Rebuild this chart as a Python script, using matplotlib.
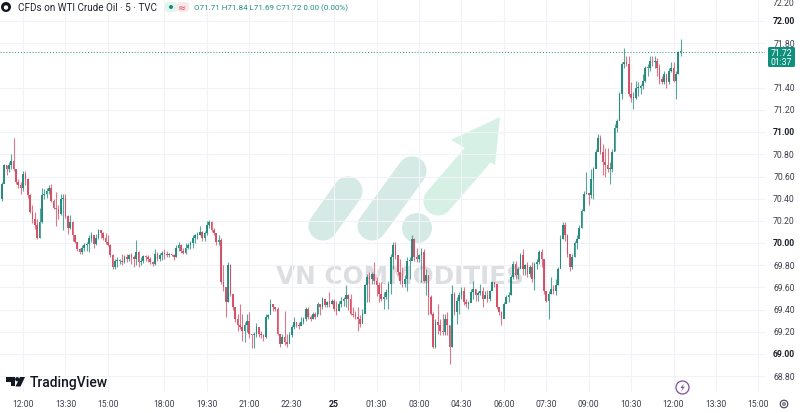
import matplotlib
matplotlib.use('Agg')
import matplotlib.pyplot as plt
from matplotlib.patches import Circle, FancyBboxPatch, Polygon

# 5 minute candles, oldest first
highs = [
    70.55, 70.71, 70.70, 70.73, 70.80, 70.95, 70.67, 70.58, 70.55, 70.65,
    70.65, 70.59, 70.44, 70.34, 70.28, 70.22, 70.32, 70.50, 70.49, 70.50,
    70.52, 70.53, 70.40, 70.46, 70.34, 70.44, 70.44, 70.44, 70.25, 70.25,
    70.20, 70.07, 70.01, 69.96, 69.98, 70.00, 70.01, 70.07, 70.10, 70.07,
    70.08, 70.13, 70.12, 70.10, 70.09, 70.07, 69.99, 69.90, 69.86, 69.87,
    69.86, 69.90, 69.89, 69.90, 69.90, 69.91, 69.89, 70.03, 69.93, 69.87,
    69.89, 69.89, 69.89, 69.87, 69.84, 69.95, 69.92, 69.91, 69.93, 69.95,
    69.93, 69.91, 69.90, 69.90, 69.98, 70.01, 69.99, 69.96, 70.00, 70.00,
    70.02, 70.07, 70.08, 70.10, 70.15, 70.11, 70.11, 70.20, 70.21, 70.20,
    70.14, 70.07, 70.07,
    70.05, 69.80, 69.54, 69.83, 69.81, 69.52, 69.40, 69.36, 69.45, 69.36,
    69.29, 69.36, 69.38, 69.18, 69.20, 69.28, 69.23, 69.21, 69.18, 69.36,
    69.36, 69.50, 69.45, 69.42, 69.42, 69.18, 69.18, 69.39, 69.18, 69.20,
    69.26, 69.33, 69.29, 69.29, 69.33, 69.33, 69.42, 69.42, 69.35, 69.38,
    69.38, 69.47, 69.45, 69.51, 69.48, 69.48, 69.56, 69.50, 69.50, 69.48,
    69.48, 69.51, 69.51, 69.62, 69.54, 69.54, 69.42, 69.39, 69.42, 69.35,
    69.41, 69.63, 69.72, 69.74, 69.74, 69.83, 69.69, 69.65, 69.65, 69.56,
    69.59, 69.66, 69.90, 70.01, 70.01, 69.87, 69.86, 69.78, 69.71, 69.87,
    69.87, 70.07, 70.05, 69.96, 69.90, 69.96, 69.95, 69.77, 69.71, 69.53,
    69.38, 69.32, 69.45, 69.32, 69.36, 69.36, 69.38, 69.26, 69.62, 69.56,
    69.51, 69.56, 69.60, 69.60, 69.50, 69.48, 69.59, 69.66, 69.59,
    69.57, 69.63, 69.60, 69.57, 69.58, 69.58, 69.66, 69.65, 69.62, 69.42,
    69.39, 69.47, 69.53, 69.56, 69.71, 69.84, 69.84, 69.78, 69.91, 69.95,
    69.81, 69.83, 69.80, 69.83, 69.83, 69.86, 69.94, 69.95, 69.83, 69.57,
    69.57, 69.69, 69.62, 69.68, 69.78, 70.07, 70.19, 70.19, 70.08, 69.89,
    69.90, 70.02, 70.07, 70.16, 70.31, 70.47, 70.64, 70.45, 70.67, 70.69,
    70.85, 70.98, 70.97, 70.89, 70.86, 70.86, 70.73, 70.85, 71.07, 71.12,
    71.36, 71.63, 71.76, 71.69, 71.69, 71.45, 71.36, 71.46, 71.45, 71.43,
    71.52, 71.60, 71.61, 71.69, 71.69, 71.69, 71.67, 71.61, 71.51, 71.55,
    71.51, 71.58, 71.63, 71.63, 71.55, 71.73, 71.84,
]
lows = [
    70.38, 70.56, 70.61, 70.64, 70.67, 70.65, 70.53, 70.50, 70.44, 70.47,
    70.52, 70.41, 70.27, 70.18, 70.13, 70.04, 70.05, 70.18, 70.40, 70.41,
    70.44, 70.37, 70.31, 70.15, 70.22, 70.25, 70.12, 70.23, 70.08, 70.13,
    70.02, 70.00, 69.93, 69.90, 69.90, 69.93, 69.93, 69.92, 70.01, 69.96,
    69.98, 70.04, 70.05, 70.03, 69.99, 69.97, 69.87, 69.77, 69.77, 69.78,
    69.81, 69.80, 69.82, 69.83, 69.84, 69.81, 69.78, 69.80, 69.78, 69.80,
    69.82, 69.84, 69.83, 69.81, 69.79, 69.80, 69.84, 69.84, 69.85, 69.86,
    69.87, 69.87, 69.88, 69.85, 69.87, 69.93, 69.91, 69.90, 69.90, 69.95,
    69.95, 69.96, 70.00, 70.04, 70.07, 70.02, 70.02, 70.07, 70.14, 70.10,
    70.07, 69.98, 69.98,
    69.63, 69.57, 69.33, 69.47, 69.52, 69.40, 69.29, 69.21, 69.23, 69.12,
    69.11, 69.20, 69.14, 69.05, 69.05, 69.15, 69.15, 69.14, 69.12, 69.14,
    69.32, 69.38, 69.39, 69.39, 69.17, 69.06, 69.12, 69.08, 69.06, 69.12,
    69.15, 69.23, 69.24, 69.23, 69.26, 69.27, 69.30, 69.32, 69.30, 69.32,
    69.32, 69.36, 69.35, 69.41, 69.42, 69.42, 69.42, 69.45, 69.39, 69.35,
    69.39, 69.42, 69.43, 69.42, 69.40, 69.35, 69.33, 69.32, 69.21, 69.24,
    69.29, 69.38, 69.47, 69.47, 69.63, 69.63, 69.52, 69.47, 69.48, 69.41,
    69.50, 69.41, 69.54, 69.77, 69.86, 69.71, 69.63, 69.60, 69.60, 69.57,
    69.68, 69.86, 69.84, 69.83, 69.83, 69.65, 69.65, 69.53, 69.35, 69.35,
    69.05, 69.05, 69.18, 69.17, 69.17, 69.17, 69.17, 68.91, 69.06, 69.35,
    69.27, 69.36, 69.50, 69.44, 69.42, 69.41, 69.50, 69.50, 69.48,
    69.48, 69.53, 69.42, 69.51, 69.47, 69.48, 69.58, 69.60, 69.41, 69.35,
    69.26, 69.35, 69.47, 69.47, 69.53, 69.68, 69.68, 69.68, 69.78, 69.71,
    69.71, 69.69, 69.69, 69.65, 69.58, 69.77, 69.81, 69.78, 69.54, 69.47,
    69.32, 69.54, 69.54, 69.53, 69.62, 69.78, 70.04, 70.02, 69.87, 69.75,
    69.77, 69.87, 69.95, 70.07, 70.14, 70.29, 70.44, 70.34, 70.41, 70.40,
    70.69, 70.85, 70.80, 70.61, 70.60, 70.64, 70.53, 70.64, 70.83, 71.00,
    71.12, 71.30, 71.58, 71.60, 71.33, 71.27, 71.21, 71.30, 71.33, 71.34,
    71.39, 71.45, 71.51, 71.55, 71.60, 71.58, 71.51, 71.43, 71.43, 71.43,
    71.40, 71.43, 71.54, 71.45, 71.30, 71.52, 71.69,
]
closes = [
    70.53, 70.70, 70.67, 70.70, 70.74, 70.67, 70.55, 70.52, 70.50, 70.62,
    70.58, 70.43, 70.28, 70.22, 70.16, 70.05, 70.19, 70.43, 70.44, 70.47,
    70.50, 70.38, 70.32, 70.31, 70.26, 70.40, 70.41, 70.24, 70.14, 70.19,
    70.07, 70.01, 69.95, 69.92, 69.96, 69.98, 69.99, 70.05, 70.07, 69.99,
    70.05, 70.12, 70.09, 70.05, 70.01, 69.98, 69.89, 69.78, 69.84, 69.84,
    69.84, 69.83, 69.87, 69.86, 69.89, 69.87, 69.86, 69.92, 69.83, 69.84,
    69.88, 69.87, 69.86, 69.83, 69.81, 69.90, 69.86, 69.89, 69.91, 69.90,
    69.89, 69.90, 69.89, 69.87, 69.96, 69.98, 69.93, 69.91, 69.96, 69.98,
    70.00, 70.05, 70.07, 70.07, 70.10, 70.05, 70.09, 70.16, 70.19, 70.12,
    70.09, 70.01, 70.03,
    69.65, 69.60, 69.47, 69.80, 69.54, 69.42, 69.32, 69.26, 69.24, 69.21,
    69.26, 69.30, 69.18, 69.17, 69.18, 69.24, 69.18, 69.17, 69.15, 69.33,
    69.35, 69.45, 69.42, 69.41, 69.18, 69.09, 69.15, 69.11, 69.09, 69.17,
    69.24, 69.29, 69.26, 69.25, 69.29, 69.32, 69.41, 69.33, 69.32, 69.36,
    69.33, 69.45, 69.42, 69.50, 69.44, 69.47, 69.45, 69.48, 69.41, 69.39,
    69.45, 69.48, 69.50, 69.53, 69.50, 69.36, 69.35, 69.33, 69.32, 69.27,
    69.36, 69.62, 69.69, 69.68, 69.72, 69.66, 69.62, 69.54, 69.50, 69.51,
    69.56, 69.63, 69.87, 69.98, 69.89, 69.74, 69.66, 69.63, 69.68, 69.84,
    69.84, 70.04, 69.87, 69.86, 69.89, 69.92, 69.66, 69.71, 69.51, 69.36,
    69.06, 69.29, 69.26, 69.21, 69.20, 69.32, 69.26, 69.06, 69.54, 69.38,
    69.48, 69.53, 69.57, 69.47, 69.45, 69.46, 69.56, 69.59, 69.53,
    69.55, 69.57, 69.50, 69.53, 69.50, 69.57, 69.65, 69.63, 69.42, 69.38,
    69.32, 69.45, 69.51, 69.53, 69.69, 69.81, 69.71, 69.77, 69.89, 69.77,
    69.80, 69.72, 69.78, 69.68, 69.81, 69.83, 69.92, 69.86, 69.57, 69.48,
    69.54, 69.59, 69.57, 69.62, 69.77, 70.04, 70.16, 70.07, 69.90, 69.78,
    69.87, 70.00, 70.04, 70.14, 70.29, 70.44, 70.45, 70.43, 70.58, 70.67,
    70.82, 70.95, 70.82, 70.73, 70.70, 70.67, 70.67, 70.82, 71.04, 71.10,
    71.34, 71.61, 71.63, 71.61, 71.34, 71.31, 71.31, 71.40, 71.40, 71.42,
    71.46, 71.58, 71.58, 71.64, 71.63, 71.64, 71.58, 71.48, 71.45, 71.52,
    71.45, 71.55, 71.58, 71.46, 71.52, 71.72, 71.72,
]
first_open = 70.40

price_ticks = [68.8, 69.0, 69.2, 69.4, 69.6, 69.8, 70.0, 70.2, 70.4, 70.6,
               70.8, 71.0, 71.2, 71.4, 71.8, 72.0, 72.2]
time_bars = [9, 27, 45, 69, 87, 105, 123, 141, 159, 177, 195, 213, 231, 249, 267, 285, 303, 321]
time_labels = ['12:00', '13:30', '15:00', '18:00', '19:30', '21:00', '22:30', '25', '01:30',
               '03:00', '04:30', '06:00', '07:30', '09:00', '10:30', '12:00', '13:30', '15:00']
last_price = 71.72

up = '#22897b'
down = '#d44c64'
grid = '#f1f3f8'
label = '#3a3f4a'
plt.rcParams['font.family'] = ['Roboto', 'DejaVu Sans']

fig = plt.figure(figsize=(8, 4.14), dpi=100)
W = 800.0
H = 414.0

# back layer in pixels: watermark
back = fig.add_axes([0, 0, 1, 1], zorder=0)
back.set_xlim(0, W)
back.set_ylim(H, 0)
back.axis('off')
pill = '#d6eae5'
for x0, y0, x1, y1, c in [(323, 227, 348, 192, pill), (372, 227, 412, 172, pill),
                          (438, 202, 477, 157, '#d6f0e5')]:
    back.plot([x0, x1], [y0, y1], color=c, lw=21, solid_capstyle='round')
back.add_patch(Circle((417, 229), 15, color=pill, lw=0))
back.add_patch(Polygon([(500, 118), (451, 141), (495, 166)], color='#d6f0e5', lw=0))
back.text(400, 277, 'VN COMMODITIES', ha='center', va='center', fontsize=17.8,
          fontweight='bold', color='#dcdee1', family=['DejaVu Sans'])

# main chart
ax = fig.add_axes([0, (H - 393) / H, 765 / W, 393 / H], zorder=1)
ax.patch.set_alpha(0)
bar_w = 2.357
ax.set_xlim(-1.8 / bar_w, (765 - 1.8) / bar_w)
ax.set_ylim(72 - 371 / 111.0, 72 + 22 / 111.0)
for s in ax.spines.values():
    s.set_visible(False)

xs = list(range(len(closes)))
opens = [first_open] + closes[:-1]
colors = [up if c >= o else down for o, c in zip(opens, closes)]
bottoms = [min(o, c) for o, c in zip(opens, closes)]
sizes = [max(abs(c - o), 0.008) for o, c in zip(opens, closes)]
ax.vlines(xs, lows, highs, colors=colors, lw=0.8, alpha=0.75, zorder=3)
ax.bar(xs, sizes, bottom=bottoms, width=0.7, color=colors, lw=0, alpha=0.95, zorder=4)

ax.set_xticks(time_bars)
ax.set_yticks(price_ticks)
ax.grid(True, color=grid, lw=0.8, zorder=0)
ax.set_axisbelow(True)
ax.tick_params(length=0, labelbottom=False, labelleft=False)
ax.axhline(last_price, color='#1f9080', lw=0.7, ls=(0, (1, 2)), zorder=5)

# top layer in pixels: labels, logos, last price box
top = fig.add_axes([0, 0, 1, 1], zorder=2)
top.set_xlim(0, W)
top.set_ylim(H, 0)
top.axis('off')
top.patch.set_alpha(0)

to_px = lambda p: max(22 + (72 - p) * 111.0, 4)
for p in price_ticks:
    whole = abs(p - round(p)) < 0.01
    top.text(784, to_px(p), '%.2f' % p, ha='center', va='center', fontsize=6.2,
             color='#1c2029' if whole else label, fontweight='bold' if whole else 'normal')
for b, t in zip(time_bars, time_labels):
    top.text(1.8 + b * bar_w, 405, t, ha='center', va='center', fontsize=6.2,
             color='#1c2029' if t == '25' else label, fontweight='bold' if t == '25' else 'normal')

top.add_patch(FancyBboxPatch((768, 48), 27, 20, boxstyle='round,pad=0,rounding_size=1.5',
                             color='#0f8f7c', lw=0))
top.text(781.5, 54, '71.72', ha='center', va='center', fontsize=6.2, color='white')
top.text(781.5, 62.5, '01:37', ha='center', va='center', fontsize=6.2, color='white')

# header
top.add_patch(Circle((6, 8), 5, color='#131722', lw=0))
top.add_patch(Circle((6, 8.5), 2.2, color='white', lw=0))
top.text(18, 8, 'CFDs on WTI Crude Oil · 5 · TVC', ha='left', va='center', fontsize=7.1, color='#20242e')
top.add_patch(FancyBboxPatch((165, 3), 12, 10, boxstyle='round,pad=0,rounding_size=3',
                             color='#e3f4ee', lw=0))
top.add_patch(FancyBboxPatch((177, 3), 12, 10, boxstyle='round,pad=0,rounding_size=3',
                             color='#fbe8ea', lw=0))
top.add_patch(Circle((171, 8), 2, color='#0f8f7c', lw=0))
top.text(182.5, 8, '≈', ha='center', va='center', fontsize=7, color='#d8485f', family=['DejaVu Sans'])
top.text(194, 8, 'O71.71 H71.84 L71.69 C71.72 0.00 (0.00%)', ha='left', va='center',
         fontsize=5.8, color='#1f9080')

# TradingView logo
dark = '#131722'
top.add_patch(Polygon([(6, 378), (15, 378), (15, 387.5), (10.5, 387.5), (10.5, 382.5), (6, 382.5)],
                      color=dark, lw=0))
top.add_patch(Circle((17.2, 380.2), 2.1, color=dark, lw=0))
top.add_patch(Polygon([(20, 378), (25, 378), (20.5, 387.5), (15.5, 387.5)], color=dark, lw=0))
top.text(30, 383, 'TradingView', ha='left', va='center', fontsize=10, color=dark, fontweight='medium')

# lightning badge and settings icon
top.add_patch(Circle((682.5, 388.5), 6.5, fill=False, ec='#7d4f9e', lw=0.9))
top.add_patch(Polygon([(684, 384.5), (680.5, 389), (682.5, 389), (681, 392.5), (684.8, 387.8), (682.7, 387.8)],
                      color='#7d4f9e', lw=0))
top.add_patch(Circle((784, 405), 3.8, fill=False, ec='#3a3f4a', lw=0.8))
top.add_patch(Circle((784, 405), 1.3, fill=False, ec='#3a3f4a', lw=0.7))

fig.savefig('out.png', dpi=100)
